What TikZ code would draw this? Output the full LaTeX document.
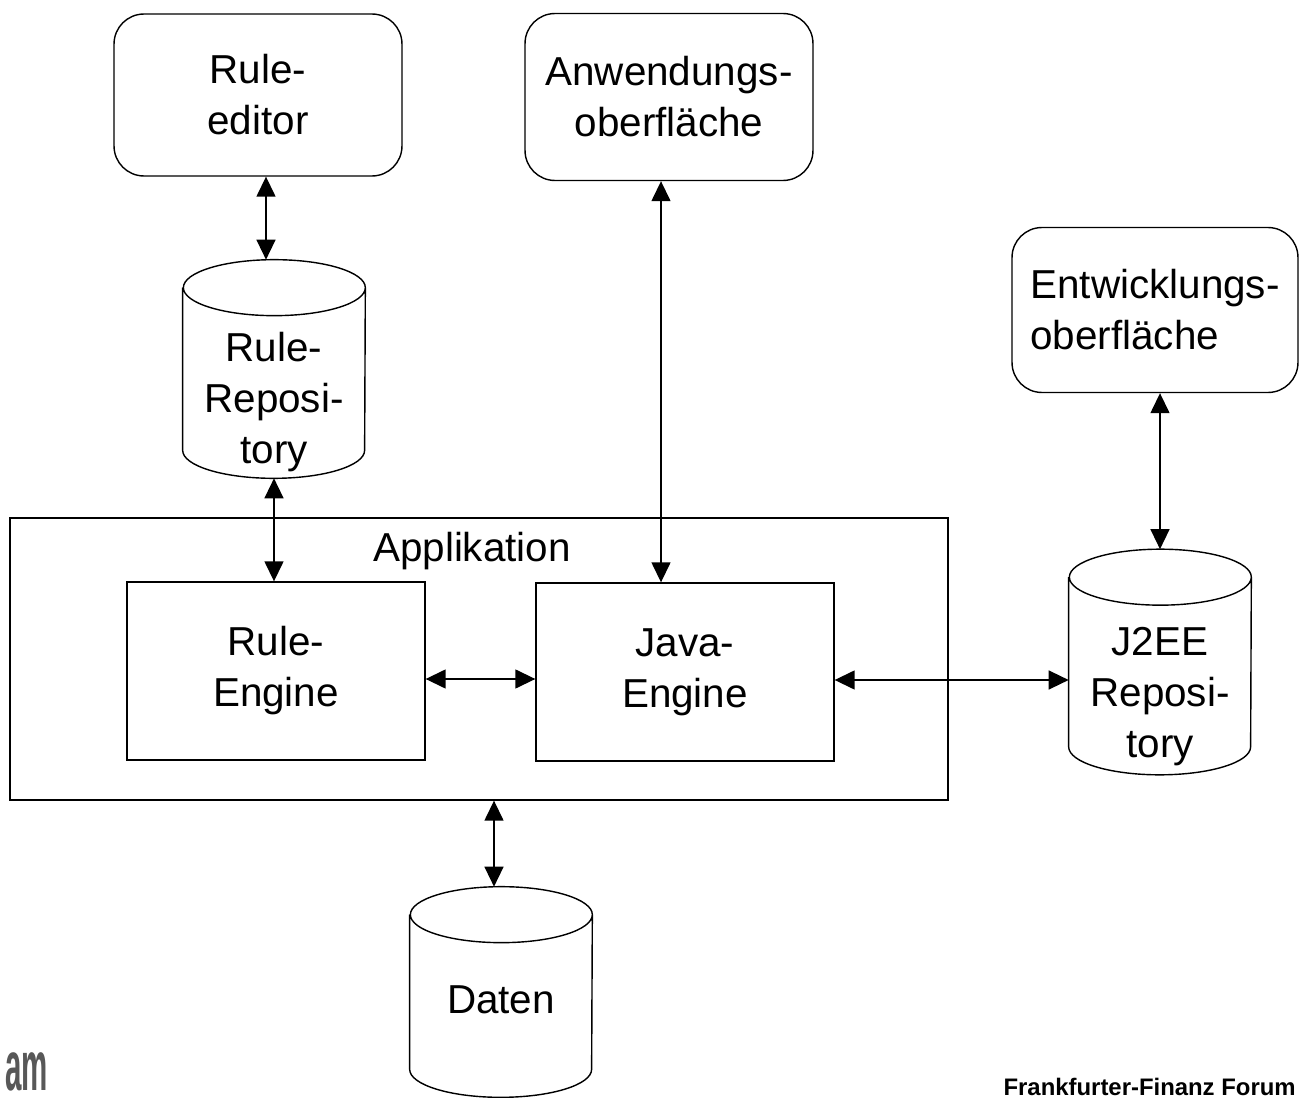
\documentclass[tikz,border=0pt]{standalone}
\usepackage{fontspec}
\setmainfont{Liberation Sans}
\usetikzlibrary{arrows.meta}
\definecolor{logogray}{RGB}{88,88,88}

\begin{document}
\begin{tikzpicture}[
        x=0.02cm, y=-0.02cm,
        % define styles
        tool/.style={
            draw, rounded corners=0.6cm, line width=0.8pt,
            minimum width=5.76cm, minimum height=3.24cm,
            align=center, font=\fontsize{23}{29}\selectfont
        },
        block/.style={
            draw, line width=0.8pt,
            minimum width=5.96cm, minimum height=3.56cm,
            align=center, font=\fontsize{23}{29}\selectfont
        },
        store/.style={
            minimum width=3.64cm, inner sep=0pt
        },
        storetext/.style={
            align=center, font=\fontsize{23}{29}\selectfont
        },
        link/.style={<->, line width=0.8pt},
        >={Triangle[length=0.4cm,width=0.38cm]}
    ]
    \useasboundingbox (0,0) rectangle (1299,1098);

    % front ends
    \node[tool] (editor) at (258,95) {Rule-\\editor};
    \node[tool, minimum height=3.34cm] (gui) at (669,97) {Anwendungs-\\oberfläche};
    \node[tool, minimum width=5.72cm, minimum height=3.3cm, align=left] (ide) at (1155,310) {Entwicklungs-\\oberfläche};

    % application with both engines
    \node[block, minimum width=18.76cm, minimum height=5.64cm,
        label={[storetext, below=5pt, xshift=-0.14cm]north:Applikation}] (app) at (479,659) {};
    \node[block] (ruleengine) at (276,671) {Rule-\\Engine};
    \node[block] (javaengine) at (685,672) {Java-\\Engine};

    % data stores, text sits below the top ellipse
    \node[store, minimum height=4.36cm,
        label={[storetext, yshift=-0.66cm]center:Rule-\\Reposi-\\tory}] (rulerepo) at (274,369) {};
    \node[store, minimum height=4.5cm,
        label={[storetext, yshift=-0.7cm]center:J2EE\\Reposi-\\tory}] (j2ee) at (1160,662) {};
    \node[store, minimum height=4.2cm,
        label={[storetext, yshift=-0.16cm]center:Daten}] (data) at (501,992) {};

    %cylinder outlines round the stores
    \foreach \s in {rulerepo,j2ee,data}
        \draw[line width=0.8pt] ([yshift=-0.56cm]\s.north west) -- ([yshift=0.56cm]\s.south west)
            arc[start angle=180, end angle=360, x radius=1.82cm, y radius=0.56cm]
            -- ([yshift=-0.56cm]\s.north east)
            arc[start angle=0, end angle=360, x radius=1.82cm, y radius=0.56cm];

    % connectors
    \draw[link] ([xshift=0.16cm]editor.south) -- ([xshift=0.16cm]editor.south |- rulerepo.north);
    \draw[link] (rulerepo.south) -- (rulerepo.south |- ruleengine.north);
    \draw[link] ([xshift=-0.16cm]gui.south) -- ([xshift=-0.16cm]gui.south |- javaengine.north);
    \draw[link] ([yshift=-0.16cm]ruleengine.east) -- ([yshift=-0.16cm]ruleengine.east -| javaengine.west);
    \draw[link] ([yshift=-0.16cm]javaengine.east) -- ([yshift=-0.16cm]javaengine.east -| j2ee.west);
    \draw[link] (ide.south -| j2ee.north) -- (j2ee.north);
    \draw[link] ([xshift=-0.14cm]app.south -| data.north) -- ([xshift=-0.14cm]data.north);

    % footer
    \node[anchor=base west, inner sep=0pt, text=logogray, font=\fontsize{40}{40}\selectfont\bfseries] (logo) at (5,1090) {\scalebox{0.42}[1]{am}};
    \node[anchor=base east, inner sep=0pt, font=\fontsize{13.6}{16}\selectfont\bfseries] (forum) at (1296,1095) {Frankfurter-Finanz Forum};
\end{tikzpicture}
\end{document}
